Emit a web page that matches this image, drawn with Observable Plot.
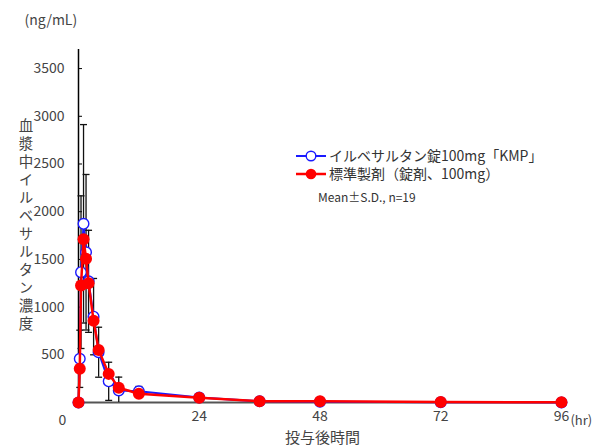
<!DOCTYPE html>
<html>
<head>
<meta charset="utf-8">
<script src="https://cdn.jsdelivr.net/npm/d3@7"></script>
<script src="https://cdn.jsdelivr.net/npm/@observablehq/plot@0.6"></script>
<style>
  html, body { margin: 0; padding: 0; background: #fff; }
  #chart svg { display: block; }
</style>
</head>
<body>
<div id="chart"></div>
<script>
// Sampling times (hr) after a single 100 mg dose
const times = [0, 0.25, 0.5, 1, 1.5, 2, 3, 4, 6, 8, 12, 24, 36, 48, 72, 96];
// Test tablet: mean plasma concentration (ng/mL) and S.D.
const testMean = [0, 458, 1366, 1873, 1575, 1270, 900, 527, 222, 126, 118, 52, 12, 8, 3, 1];
const testSD   = [0, 300, 800, 1040, 815, 535, 400, 262, 200, 140, 50, 25, 8, 5, 2, 1];
// Reference tablet: mean plasma concentration (ng/mL)
const refMean  = [0, 353, 1226, 1710, 1506, 1250, 856, 550, 300, 154, 91, 49, 14, 12, 5, 2];

const yTicks = [500, 1000, 1500, 2000, 2500, 3000, 3500];
const xTicks = [24, 48, 72, 96];

const testName = "イルベサルタン錠100mg「KMP」";
const refName = "標準製剤（錠剤、100mg）";
const noteText = "Mean±S.D., n=19";
const yTitle = "血漿中イルベサルタン濃度";
const xTitle = "投与後時間";
const unitY = "(ng/mL)";
const unitX = "(hr)";

const testRows = times.map((t, i) => ({t, v: testMean[i], sd: testSD[i]}));
const refRows = times.map((t, i) => ({t, v: refMean[i]}));

const font = "'Noto Sans CJK JP', 'Noto Sans', sans-serif";
const textGray = "#444";
const blue = "#1a1aff";
const red = "#ff0000";

// horizontal cap for the error bars
const capSymbol = {
  draw(context) {
    context.moveTo(-3.5, 0);
    context.lineTo(3.5, 0);
  }
};

const chart = Plot.plot({
  width: 593,
  height: 448,
  marginLeft: 78,
  marginRight: 27,
  marginTop: 49,
  marginBottom: 46,
  style: {fontFamily: font, background: "#fff", overflow: "visible"},
  x: {domain: [0, 97]},
  y: {domain: [0, 3700]},
  marks: [
    // axes
    Plot.axisY({ticks: yTicks, tickSize: -4, tickPadding: 18, fontSize: 14, color: textGray, stroke: "#000", label: null, tickFormat: d => String(d)}),
    Plot.axisX({ticks: xTicks, tickSize: 0, tickPadding: 9, fontSize: 14, color: textGray, label: null, tickFormat: d => String(d)}),
    Plot.text(["0"], {x: 0, y: 0, dx: -16, dy: 18, fontSize: 14, fill: textGray}),
    Plot.text([unitX], {x: 96, y: 0, dx: 9, dy: 18, textAnchor: "start", fontSize: 13, fill: textGray}),
    Plot.ruleY([0], {stroke: "#555", strokeWidth: 2}),
    Plot.ruleX([0], {stroke: "#000", strokeWidth: 1.5}),
    // titles
    Plot.text([unitY], {frameAnchor: "top-left", dx: -54, dy: -34, textAnchor: "start", fontSize: 14, fill: textGray, style: "letter-spacing: 1px"}),
    Plot.text([xTitle], {frameAnchor: "bottom", dy: 40, fontSize: 15, fill: textGray}),
    // S.D. error bars of the test tablet
    Plot.ruleX(testRows.filter(d => d.sd > 0), {x: "t", y1: d => Math.max(0, d.v - d.sd), y2: d => d.v + d.sd, stroke: "#111", strokeWidth: 1.3}),
    Plot.dot(testRows.filter(d => d.sd > 0), {x: "t", y: d => d.v + d.sd, symbol: capSymbol, stroke: "#111", strokeWidth: 1.3, fill: "none"}),
    Plot.dot(testRows.filter(d => d.sd > 0 && d.v - d.sd > 0), {x: "t", y: d => d.v - d.sd, symbol: capSymbol, stroke: "#111", strokeWidth: 1.3, fill: "none"}),
    // test tablet
    Plot.line(testRows, {x: "t", y: "v", stroke: blue, strokeWidth: 2}),
    Plot.dot(testRows, {x: "t", y: "v", r: 5.3, stroke: blue, strokeWidth: 1.4, fill: "#fff"}),
    // reference tablet
    Plot.line(refRows, {x: "t", y: "v", stroke: red, strokeWidth: 2.5}),
    Plot.dot(refRows, {x: "t", y: "v", r: 6, fill: red, stroke: "none"})
  ]
});

const svg = d3.select(chart);

// vertical (tategaki) y-axis title
svg.append("text")
  .attr("x", 26).attr("y", 226)
  .attr("font-family", font).attr("font-size", 14.5).attr("fill", textGray)
  .attr("text-anchor", "middle")
  .style("writing-mode", "vertical-rl")
  .style("text-orientation", "upright")
  .style("letter-spacing", "3.5px")
  .text(yTitle);

// legend drawn inside the plot area
const lg = svg.append("g").attr("font-family", font).attr("text-anchor", "start");
const rowsLegend = [
  {label: testName, color: blue, open: true, y: 156},
  {label: refName, color: red, open: false, y: 174}
];
rowsLegend.forEach(r => {
  lg.append("line").attr("x1", 296).attr("x2", 326).attr("y1", r.y).attr("y2", r.y)
    .attr("stroke", r.color).attr("stroke-width", r.open ? 2 : 2.5);
  lg.append("circle").attr("cx", 311).attr("cy", r.y).attr("r", r.open ? 4.8 : 5.3)
    .attr("fill", r.open ? "#fff" : r.color).attr("stroke", r.open ? r.color : "none").attr("stroke-width", 1.4);
  lg.append("text").attr("x", 329).attr("y", r.y).attr("dy", "0.36em")
    .attr("font-size", 14).attr("fill", "#333").text(r.label);
});
lg.append("text").attr("x", 318).attr("y", 198).attr("dy", "0.36em")
  .attr("font-size", 12).attr("fill", "#333").text(noteText);

document.getElementById("chart").append(chart);
</script>
</body>
</html>
